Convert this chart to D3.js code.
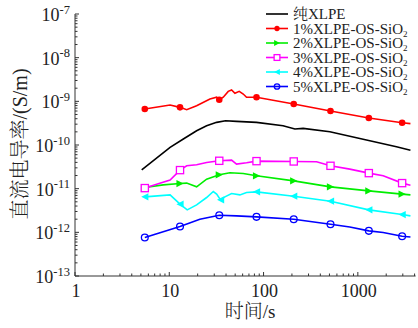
<!DOCTYPE html>
<html>
<head>
<meta charset="utf-8">
<script src="https://cdn.jsdelivr.net/npm/d3@7"></script>
<style>
body { margin: 0; background: #fff; }
svg { display: block; }
</style>
</head>
<body>
<div id="chart"></div>
<script>
// tick labels
const xTicks = [1, 10, 100, 1000];
const yExps = [-7, -8, -9, -10, -11, -12, -13];

// legend names and colours
const names = ["纯XLPE", "1%XLPE-OS-SiO", "2%XLPE-OS-SiO", "3%XLPE-OS-SiO", "4%XLPE-OS-SiO", "5%XLPE-OS-SiO"];
const colors = ["#000000", "#ff0000", "#00ee00", "#ff00ff", "#00ffff", "#0000ff"];

// pure XLPE
const pureT = [5.1, 10.2, 14.1, 19.5, 24.9, 31.8, 39.5, 51.7, 84.2, 161, 215, 263, 505, 1340, 2570, 3615];
const pureV = [2.7e-11, 8.8e-11, 1.37e-10, 2.12e-10, 2.77e-10, 3.3e-10, 3.6e-10, 3.47e-10, 3.3e-10, 2.77e-10, 2.32e-10, 2.4e-10, 2.01e-10, 1.25e-10, 9.1e-11, 7.6e-11];

// 1%
const s1T = [5.5, 10.2, 13, 15.3, 19.5, 27, 31.8, 33.9, 37.4, 42.2, 45.8, 49.7, 55.2, 60.9, 66, 84.2, 209, 513, 1308, 2950, 3615];
const s1V = [6.67e-10, 8.24e-10, 7.28e-10, 6.44e-10, 7.96e-10, 1.13e-9, 1.24e-9, 1.09e-9, 1.24e-9, 1.69e-9, 1.82e-9, 1.53e-9, 1.69e-9, 1.47e-9, 1.24e-9, 1.24e-9, 8.69e-10, 6.0e-10, 4.15e-10, 3.24e-10, 3.08e-10];
const s1M = [0, 2, 7, 15, 16, 17, 18, 19];

// 2%
const s2T = [5.5, 8.64, 13, 15.3, 19.5, 24.9, 33.9, 44, 60.9, 84.2, 209, 513, 1308, 2950, 3615];
const s2V = [1.06e-11, 1.22e-11, 1.31e-11, 1.34e-11, 1.10e-11, 1.65e-11, 2.08e-11, 2.31e-11, 2.23e-11, 1.97e-11, 1.51e-11, 1.10e-11, 8.9e-12, 7.5e-12, 7.2e-12];
const s2M = [0, 2, 6, 9, 10, 11, 12, 13];

// 3%
const s3T = [5.5, 10.2, 13, 15.3, 19.5, 24.9, 33.9, 45.8, 51.7, 66, 84.2, 209, 365, 513, 822, 1308, 1857, 2950, 3615];
const s3V = [1.03e-11, 1.57e-11, 2.66e-11, 3.34e-11, 3.52e-11, 3.98e-11, 4.35e-11, 4.51e-11, 3.65e-11, 3.92e-11, 4.27e-11, 4.20e-11, 4.13e-11, 3.34e-11, 2.80e-11, 2.27e-11, 1.97e-11, 1.34e-11, 1.20e-11];
const s3M = [0, 2, 6, 10, 11, 13, 15, 17];

// 4%
const s4T = [5.5, 10.2, 13, 15.5, 19.5, 24.9, 29.3, 31.8, 35, 38.9, 45.8, 56.1, 66, 84.2, 209, 513, 1308, 2950, 3615];
const s4V = [6.5e-12, 7.2e-12, 4.41e-12, 3.27e-12, 4.26e-12, 6.27e-12, 8.6e-12, 7.5e-12, 5.54e-12, 6.5e-12, 7.75e-12, 7.2e-12, 8.17e-12, 8.46e-12, 6.73e-12, 5.16e-12, 3.27e-12, 2.55e-12, 2.38e-12];
const s4M = [0, 2, 8, 13, 14, 15, 16, 17];

// 5%
const s5T = [5.5, 13, 21.1, 33.9, 51.7, 84.2, 209, 513, 822, 1308, 1857, 2950, 3615];
const s5V = [7.59e-13, 1.36e-12, 2.0e-12, 2.46e-12, 2.38e-12, 2.26e-12, 2.0e-12, 1.53e-12, 1.33e-12, 1.08e-12, 9.9e-13, 8.13e-13, 7.85e-13];
const s5M = [0, 1, 3, 5, 6, 7, 9, 11];

const series = [
  { t: pureT, v: pureV, m: [], shape: "none" },
  { t: s1T, v: s1V, m: s1M, shape: "dot" },
  { t: s2T, v: s2V, m: s2M, shape: "triR" },
  { t: s3T, v: s3V, m: s3M, shape: "square" },
  { t: s4T, v: s4V, m: s4M, shape: "triL" },
  { t: s5T, v: s5V, m: s5M, shape: "ring" }
];

const W = 418, H = 328;
const serif = "'Liberation Serif', 'Times New Roman', 'Noto Serif CJK SC', 'Noto Sans CJK SC', serif";

const svg = d3.select("#chart").append("svg")
  .attr("width", W)
  .attr("height", H)
  .style("font-family", serif);

const x = d3.scaleLog().domain([1, 4100]).range([75, 415.6]);
const y = d3.scaleLog().domain([1e-13, 1e-7]).range([276, 14]);

// minor ticks
const xMinor = [];
for (let d = 1; d <= 1000; d *= 10)
  for (let k = 2; k <= 9; k++) if (d * k <= 4100) xMinor.push(d * k);
const yMinor = [];
for (let e = -13; e < -7; e++)
  for (let k = 2; k <= 9; k++) yMinor.push(k * Math.pow(10, e));

const axes = svg.append("g").attr("stroke", "#333").attr("stroke-width", 1);
axes.selectAll(".xmin").data(xMinor).enter().append("line")
  .attr("x1", d => x(d)).attr("x2", d => x(d))
  .attr("y1", 276).attr("y2", 273.5);
axes.selectAll(".xmaj").data(xTicks).enter().append("line")
  .attr("x1", d => x(d)).attr("x2", d => x(d))
  .attr("y1", 276).attr("y2", 272);
axes.selectAll(".ymin").data(yMinor).enter().append("line")
  .attr("x1", 75).attr("x2", 77.5)
  .attr("y1", d => y(d)).attr("y2", d => y(d));
axes.selectAll(".ymaj").data(yExps).enter().append("line")
  .attr("x1", 75).attr("x2", 79)
  .attr("y1", d => y(Math.pow(10, d))).attr("y2", d => y(Math.pow(10, d)));
axes.append("line").attr("x1", 75).attr("x2", 75).attr("y1", 14).attr("y2", 276);
axes.append("line").attr("x1", 75).attr("x2", 415.6).attr("y1", 276).attr("y2", 276);

// tick labels
svg.selectAll(".xl").data(xTicks).enter().append("text")
  .attr("x", d => x(d) + 1)
  .attr("y", 297)
  .attr("text-anchor", "middle")
  .attr("font-size", 18)
  .attr("fill", "#222")
  .text(d => d);

const yl = svg.selectAll(".yl").data(yExps).enter().append("text")
  .attr("x", 70)
  .attr("y", d => y(Math.pow(10, d)) + 7)
  .attr("text-anchor", "end")
  .attr("fill", "#222");
yl.append("tspan").attr("font-size", 18).text("10");
yl.append("tspan").attr("font-size", 12.5).attr("dy", -7.5).text(d => "-" + Math.abs(d));

// axis titles
svg.append("text")
  .attr("transform", "translate(27,144) rotate(-90)")
  .attr("text-anchor", "middle")
  .attr("font-size", 20)
  .attr("font-weight", 300)
  .attr("fill", "#222")
  .text("直流电导率/(S/m)");
svg.append("text")
  .attr("x", 250).attr("y", 318)
  .attr("text-anchor", "middle")
  .attr("font-size", 19)
  .attr("font-weight", 300)
  .attr("fill", "#222")
  .text("时间/s");

// markers
function marker(g, shape, color, cx, cy, s) {
  if (shape === "dot") {
    g.append("circle").attr("cx", cx).attr("cy", cy).attr("r", 3.3 * s).attr("fill", color);
  } else if (shape === "ring") {
    g.append("circle").attr("cx", cx).attr("cy", cy).attr("r", 3.4 * s)
      .attr("fill", "none").attr("stroke", color).attr("stroke-width", 1.3);
  } else if (shape === "square") {
    const h = 3.6 * s;
    g.append("rect").attr("x", cx - h).attr("y", cy - h).attr("width", 2 * h).attr("height", 2 * h)
      .attr("fill", "#fff").attr("stroke", color).attr("stroke-width", 1.3);
  } else if (shape === "triR") {
    const h = 3.6 * s;
    g.append("path").attr("d", `M${cx + h},${cy}L${cx - h},${cy - h}L${cx - h},${cy + h}Z`).attr("fill", color);
  } else if (shape === "triL") {
    const h = 3.6 * s;
    g.append("path").attr("d", `M${cx - h},${cy}L${cx + h},${cy - h}L${cx + h},${cy + h}Z`).attr("fill", color);
  }
}

const line = d3.line().x(d => x(d[0])).y(d => y(d[1]));
const plot = svg.append("g");
series.forEach((s, i) => {
  const pts = s.t.map((t, j) => [t, s.v[j]]);
  plot.append("path").datum(pts)
    .attr("d", line)
    .attr("fill", "none")
    .attr("stroke", colors[i])
    .attr("stroke-width", 1.6);
});
series.forEach((s, i) => {
  s.m.forEach(j => marker(plot, s.shape, colors[i], x(s.t[j]), y(s.v[j]), 1));
});

// legend
const legY = [14, 28.5, 43, 57.5, 72, 86.5];
const leg = svg.append("g");
names.forEach((n, i) => {
  leg.append("line").attr("x1", 266).attr("x2", 288)
    .attr("y1", legY[i]).attr("y2", legY[i])
    .attr("stroke", colors[i]).attr("stroke-width", 1.6);
  marker(leg, series[i].shape, colors[i], 277, legY[i], 0.8);
  const t = leg.append("text").attr("x", 293).attr("y", legY[i] + 5)
    .attr("font-size", 15).attr("fill", "#222");
  t.append("tspan").text(n);
  if (i > 0) t.append("tspan").attr("font-size", 9).attr("dy", 3).text("2");
});
</script>
</body>
</html>
